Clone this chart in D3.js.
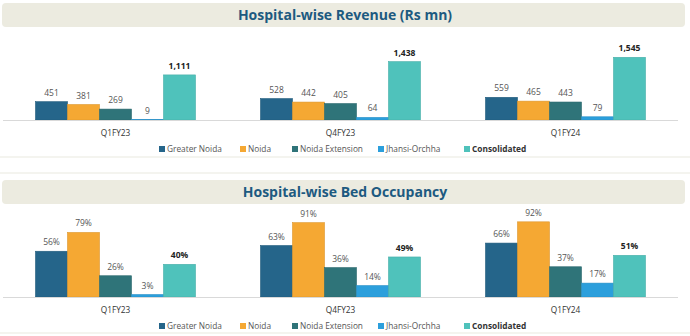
<!DOCTYPE html>
<html>
<head>
<meta charset="utf-8">
<script src="https://cdn.jsdelivr.net/npm/d3@7"></script>
<style>
  body { margin: 0; background: #fff; }
  svg { display: block; font-family: 'Open Sans', sans-serif; }
</style>
</head>
<body>
<svg width="690" height="336"></svg>
<script>
const quarters = ['Q1FY23', 'Q4FY23', 'Q1FY24'];
const hospitals = ['Greater Noida', 'Noida', 'Noida Extension', 'Jhansi-Orchha', 'Consolidated'];
const hospitalColors = ['#25658a', '#f5a833', '#2f7479', '#2c9fdc', '#4fc2bb'];

// revenue, Rs mn, one row per hospital
const revenue = [
  [451, 528, 559],
  [381, 442, 465],
  [269, 405, 443],
  [9, 64, 79],
  [1111, 1438, 1545]
];
// bed occupancy, %
const occupancy = [
  [56, 63, 66],
  [79, 91, 92],
  [26, 36, 37],
  [3, 14, 17],
  [40, 49, 51]
];

(function (d3) {
  'use strict';

  const svg = d3.select('svg');

  const panel = (g, props) => {
    const { title, values, fmt, top, baseline, pxPerUnit } = props;

    g.append('rect')
      .attr('x', 2).attr('y', top).attr('width', 683).attr('height', 24)
      .attr('rx', 4)
      .attr('fill', '#ecebe0');
    g.append('text')
      .attr('x', 345).attr('y', top + 17)
      .attr('text-anchor', 'middle')
      .attr('font-size', 14).attr('font-weight', 700)
      .attr('fill', '#1d5a80')
      .text(title);

    const x0 = d3.scaleBand().domain(quarters).range([3, 678]);
    const x1 = d3.scaleBand().domain(hospitals).range([0, 160]);
    const maxV = d3.max(values.flat());
    const y = d3.scaleLinear().domain([0, maxV]).range([baseline, baseline - maxV * pxPerUnit]);

    const rows = hospitals.map((h, i) => quarters.map((q, j) => ({ h, i, q, v: values[i][j] }))).flat();

    const bars = g.append('g');
    bars.selectAll('rect').data(rows).enter().append('rect')
      .attr('x', d => x0(d.q) + (x0.bandwidth() - 160) / 2 + x1(d.h))
      .attr('y', d => y(d.v))
      .attr('width', x1.bandwidth())
      .attr('height', d => baseline - y(d.v))
      .attr('fill', d => hospitalColors[d.i])
      .attr('stroke', d => d3.color(hospitalColors[d.i]).darker(0.3))
      .attr('stroke-width', 0.6);

    bars.selectAll('text').data(rows).enter().append('text')
      .attr('x', d => x0(d.q) + (x0.bandwidth() - 160) / 2 + x1(d.h) + x1.bandwidth() / 2)
      .attr('y', d => y(d.v) - 6)
      .attr('text-anchor', 'middle')
      .attr('font-size', 8.5)
      .attr('font-weight', d => d.i === 4 ? 700 : 400)
      .attr('fill', d => d.i === 4 ? '#222' : '#555')
      .text(d => fmt(d.v));

    g.append('line')
      .attr('x1', 3).attr('x2', 678)
      .attr('y1', baseline + 0.5).attr('y2', baseline + 0.5)
      .attr('stroke', '#d9d9d9');

    g.append('g').selectAll('text').data(quarters).enter().append('text')
      .attr('x', d => x0(d) + x0.bandwidth() / 2)
      .attr('y', baseline + 16)
      .attr('text-anchor', 'middle')
      .attr('font-size', 8.3)
      .attr('fill', '#333')
      .text(d => d);

    const legendX = [159, 240, 292, 378, 464];
    const legend = g.append('g').selectAll('g').data(hospitals).enter().append('g')
      .attr('transform', (d, i) => `translate(${legendX[i]},${baseline + 29})`);
    legend.append('rect')
      .attr('x', 0).attr('y', -3).attr('width', 6).attr('height', 6)
      .attr('fill', (d, i) => hospitalColors[i]);
    legend.append('text')
      .attr('x', 8).attr('y', 3)
      .attr('font-size', 8.3)
      .attr('font-weight', (d, i) => i === 4 ? 700 : 400)
      .attr('fill', (d, i) => i === 4 ? '#333' : '#555')
      .text(d => d);
  };

  // faint separators between the two panels
  [157, 173, 333].forEach(yy => {
    svg.append('line')
      .attr('x1', 0).attr('x2', 690)
      .attr('y1', yy).attr('y2', yy)
      .attr('stroke', '#f1f0ea').attr('stroke-width', 1.5);
  });

  svg.append('g').call(panel, {
    title: 'Hospital-wise Revenue (Rs mn)',
    values: revenue,
    fmt: d3.format(','),
    top: 3,
    baseline: 120,
    pxPerUnit: 62.7 / 1545
  });

  svg.append('g').call(panel, {
    title: 'Hospital-wise Bed Occupancy',
    values: occupancy,
    fmt: d => d + '%',
    top: 180,
    baseline: 297,
    pxPerUnit: 0.817
  });

}(d3));
</script>
</body>
</html>
